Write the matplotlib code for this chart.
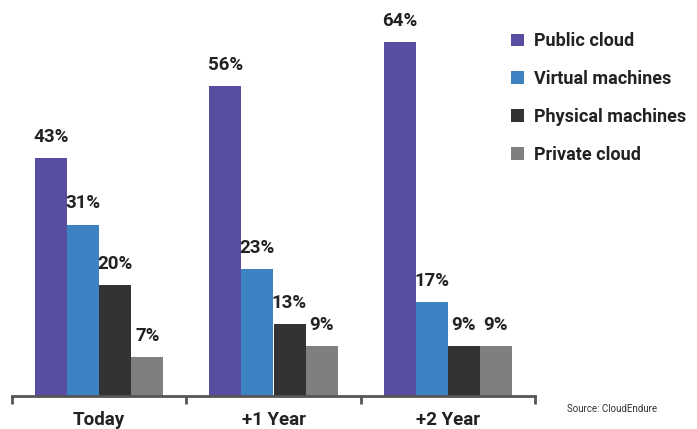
import numpy as np
import matplotlib.pyplot as plt

plt.rcParams['font.family'] = ['Roboto', 'DejaVu Sans']

periods = ["Today", "+1 Year", "+2 Year"]
series = ["Public cloud", "Virtual machines", "Physical machines", "Private cloud"]
public_cloud = [43, 56, 64]
virtual_machines = [31, 23, 17]
physical_machines = [20, 13, 9]
private_cloud = [7, 9, 9]
colors = ["#574ea2", "#3d83c4", "#333333", "#7f7f7f"]

values = [public_cloud, virtual_machines, physical_machines, private_cloud]

fig = plt.figure(figsize=(6.97, 4.29), dpi=100)
ax = fig.add_axes([12 / 697, 33 / 429, 523 / 697, 396 / 429])

width = 0.184
x = np.arange(len(periods)) + 0.5
for i, (name, vals) in enumerate(zip(series, values)):
    pos = x + (i - 1.5) * width
    bars = ax.bar(pos, vals, width=width, color=colors[i], label=name)
    for b, v in zip(bars, vals):
        ax.text(b.get_x() + b.get_width() / 2, v + 2.2, f"{v}%",
                ha="center", va="bottom", fontsize=13.5, fontweight="bold",
                color="#222222")

ax.set_xlim(0, 3)
ax.set_ylim(0, 71.6)
for s in ["top", "right", "left"]:
    ax.spines[s].set_visible(False)
ax.spines["bottom"].set_color("#555555")
ax.spines["bottom"].set_linewidth(2)
ax.set_yticks([])
ax.set_xticks([0, 1, 2, 3])
ax.set_xticklabels([])
ax.tick_params(axis="x", length=6, width=2, color="#555555")
ax.set_xticks(x, minor=True)
ax.set_xticklabels(periods, minor=True, fontsize=13.5, fontweight="bold",
                   color="#222222")
ax.tick_params(axis="x", which="minor", length=0, pad=11)

leg = fig.legend(loc="upper left", bbox_to_anchor=(495 / 697, 1 - 16 / 429),
                 frameon=False, handlelength=0.7, handleheight=0.7,
                 handletextpad=0.55, labelspacing=1.1,
                 prop={"size": 13, "weight": "bold"})
for t in leg.get_texts():
    t.set_color("#222222")

fig.text(567 / 697, 1 - 409 / 429, "Source: CloudEndure", fontsize=7,
         color="#333333", va="center")

fig.savefig("out.png", dpi=100)
